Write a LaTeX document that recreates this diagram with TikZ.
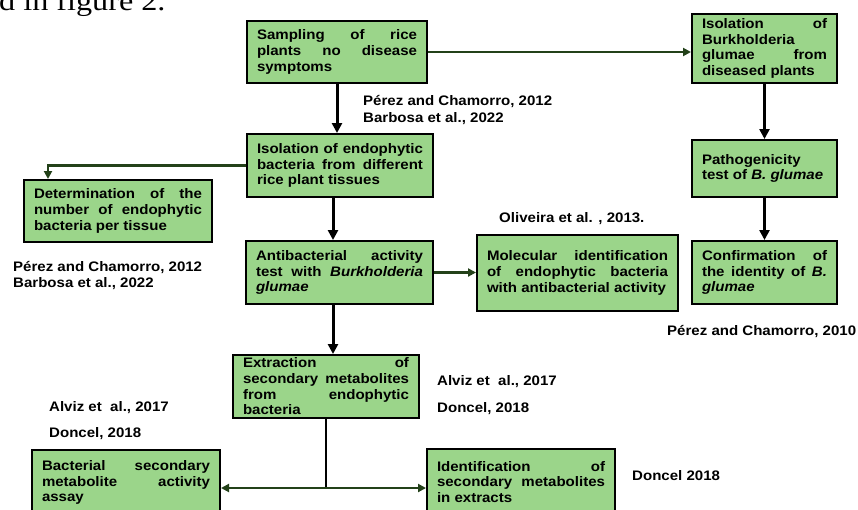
\documentclass[tikz,border=0pt]{standalone}
\usepackage{fontspec}
\setmainfont{Liberation Sans}[FakeStretch=1.09]
\newfontfamily\serifwide{Liberation Serif}[FakeStretch=1.15]
\usetikzlibrary{arrows.meta}
\definecolor{boxgreen}{RGB}{155,213,138}
\definecolor{linegreen}{RGB}{35,65,25}
\newcommand{\myboxfont}{\bfseries\fontsize{13.8}{15.7}\selectfont\hyphenpenalty=10000 \exhyphenpenalty=10000 \tolerance=10000 \hbadness=10000 }
\newcommand{\mycitefont}{\bfseries\fontsize{13.8}{16.5}\selectfont}
\tikzset{
  box/.style={draw=black, line width=2pt, fill=boxgreen, inner xsep=10pt, inner ysep=0pt, align=justify, font=\myboxfont, text=black},
  cite/.style={anchor=base west, inner sep=0pt, font=\mycitefont, text=black},
  blkarrow/.style={draw=black, line width=3pt, -{Triangle[length=10pt,width=10pt]}},
  blkline/.style={draw=black, line width=2.6pt},
  grnarrow/.style={draw=linegreen, line width=2.4pt, -{Triangle[length=8pt,width=8pt]}},
}
\begin{document}
\begin{tikzpicture}[x=1pt,y=-1pt]
\clip (0,0) rectangle (858,509);
\fill[white] (0,0) rectangle (858,509);
% cut-off text above
\node[anchor=base west, inner sep=0pt, font=\serifwide\fontsize{28}{30}\selectfont] (hdr) at (-1,10) {d in figure 2.};
% boxes
\node[box, text width=160pt, minimum height=62pt] (S1) at (337,52) {Sampling of rice\linebreak plants no disease\linebreak symptoms};
\node[box, text width=125pt, minimum height=69pt] (B1) at (764.5,48.5) {Isolation of\linebreak Burkholderia\linebreak glumae from\linebreak diseased plants};
\node[box, text width=166pt, minimum height=63pt] (S2) at (340,165.5) {Isolation of endophytic\linebreak bacteria from different\linebreak rice plant tissues};
\node[box, text width=168pt, minimum height=62pt] (D) at (118,211) {Determination of the\linebreak number of endophytic\linebreak bacteria per tissue};
\node[box, text width=167pt, minimum height=63pt] (A) at (339.5,272.5) {Antibacterial activity\linebreak test with \textit{Burkholderia}\linebreak \textit{glumae}};
\node[box, text width=181pt, minimum height=76pt] (M) at (577.5,273) {Molecular identification\linebreak of endophytic bacteria\linebreak with antibacterial activity};
\node[box, text width=125pt, minimum height=57pt] (P) at (764.5,168.5) {Pathogenicity\linebreak test of \textit{B. glumae}};
\node[box, text width=125pt, minimum height=63pt] (C) at (764.5,272.5) {Confirmation of\linebreak the identity of \textit{B.}\linebreak \textit{glumae}};
\node[box, text width=166pt, minimum height=63pt] (E) at (326,386.5) {Extraction of\linebreak secondary metabolites\linebreak from endophytic\linebreak bacteria};
\node[box, text width=168pt, minimum height=65pt] (L) at (126,482.5) {Bacterial secondary\linebreak metabolite activity\linebreak assay};
\node[box, text width=168pt, minimum height=66pt] (R) at (521,482) {Identification of\linebreak secondary metabolites\linebreak in extracts};
% citations
\node[cite] (c1a) at (363,105) {Pérez and Chamorro, 2012};
\node[cite] (c1b) at (363,122) {Barbosa et al., 2022};
\node[cite] (c2a) at (13,271) {Pérez and Chamorro, 2012};
\node[cite] (c2b) at (13,287) {Barbosa et al., 2022};
\node[cite] (c3) at (499,222) {Oliveira et al. , 2013.};
\node[cite] (c4) at (667,335) {Pérez and Chamorro, 2010};
\node[cite] (c5a) at (49,411) {Alviz et\ \ al., 2017};
\node[cite] (c5b) at (49,437) {Doncel, 2018};
\node[cite] (c6a) at (437,385) {Alviz et\ \ al., 2017};
\node[cite] (c6b) at (437,412) {Doncel, 2018};
\node[cite] (c7) at (632,480) {Doncel 2018};
% connectors
\coordinate (s2b) at ([xshift=-7pt]S2.south);
\coordinate (ab) at ([xshift=-6.5pt]A.south);
\coordinate (dt) at ([xshift=-70pt]D.north);
\coordinate (J) at (326,488);
\draw[blkarrow] (S1.south) -- (S1.south |- S2.north);
\draw[blkarrow] (s2b) -- (s2b |- A.north);
\draw[blkarrow] (ab) -- (ab |- E.north);
\draw[blkarrow] (B1.south) -- (P.north);
\draw[blkarrow] (P.south) -- (C.north);
\draw[grnarrow] (S1.east) -- (S1.east -| B1.west);
\draw[grnarrow] (S2.west) -| (dt);
\draw[grnarrow] (A.east) -- (A.east -| M.west);
\draw[blkline] (E.south) -- (J);
\draw[grnarrow] (J) -- (J -| L.east);
\draw[grnarrow] (J) -- (J -| R.west);
\end{tikzpicture}
\end{document}
